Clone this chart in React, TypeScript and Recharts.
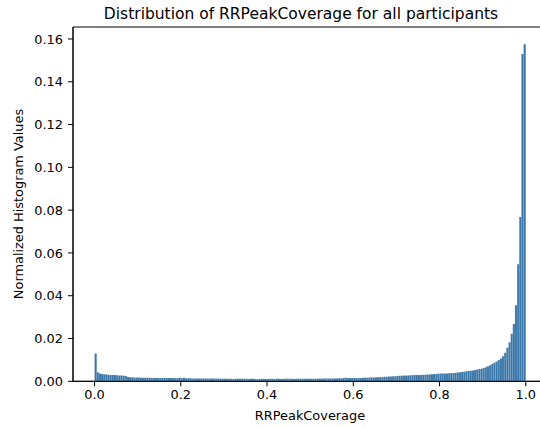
import React from 'react'
import { BarChart, Bar, XAxis, YAxis, ReferenceArea } from 'recharts'

// histogram: 200 equal bins over [0, 1]
const BIN_WIDTH = 0.005

const density = [
  // 0.00 - 0.10
  0.0130, 0.0042, 0.0036, 0.0034, 0.0033, 0.0032, 0.0031, 0.0030, 0.0029, 0.0029,
  0.0028, 0.0027, 0.0027, 0.0026, 0.0025, 0.0020, 0.0019, 0.0019, 0.0018, 0.0018,
  // 0.10 - 0.20
  0.0018, 0.0017, 0.0017, 0.0017, 0.0017, 0.0017, 0.0016, 0.0016, 0.0016, 0.0016,
  0.0016, 0.0016, 0.0016, 0.0015, 0.0016, 0.0015, 0.0015, 0.0015, 0.0016, 0.0017,
  // 0.20 - 0.30
  0.0014, 0.0017, 0.0014, 0.0014, 0.0014, 0.0013, 0.0013, 0.0013, 0.0013, 0.0013,
  0.0013, 0.0013, 0.0013, 0.0012, 0.0013, 0.0013, 0.0012, 0.0013, 0.0012, 0.0012,
  // 0.30 - 0.40
  0.0012, 0.0012, 0.0012, 0.0012, 0.0011, 0.0012, 0.0012, 0.0012, 0.0012, 0.0012,
  0.0012, 0.0011, 0.0012, 0.0012, 0.0011, 0.0010, 0.0011, 0.0012, 0.0011, 0.0011,
  // 0.40 - 0.50
  0.0011, 0.0012, 0.0012, 0.0011, 0.0012, 0.0012, 0.0011, 0.0012, 0.0012, 0.0012,
  0.0012, 0.0012, 0.0011, 0.0012, 0.0012, 0.0012, 0.0012, 0.0012, 0.0012, 0.0012,
  // 0.50 - 0.60
  0.0012, 0.0012, 0.0012, 0.0012, 0.0013, 0.0012, 0.0013, 0.0013, 0.0013, 0.0013,
  0.0013, 0.0013, 0.0013, 0.0014, 0.0014, 0.0015, 0.0017, 0.0015, 0.0015, 0.0016,
  // 0.60 - 0.70
  0.0016, 0.0015, 0.0016, 0.0016, 0.0017, 0.0017, 0.0017, 0.0018, 0.0018, 0.0018,
  0.0019, 0.0019, 0.0020, 0.0020, 0.0021, 0.0021, 0.0022, 0.0023, 0.0024, 0.0024,
  // 0.70 - 0.80
  0.0025, 0.0026, 0.0026, 0.0027, 0.0027, 0.0027, 0.0028, 0.0028, 0.0029, 0.0029,
  0.0030, 0.0030, 0.0031, 0.0031, 0.0032, 0.0032, 0.0033, 0.0034, 0.0034, 0.0035,
  // 0.80 - 0.90
  0.0036, 0.0036, 0.0037, 0.0037, 0.0038, 0.0039, 0.0039, 0.0040, 0.0041, 0.0042,
  0.0044, 0.0045, 0.0047, 0.0048, 0.0049, 0.0051, 0.0053, 0.0055, 0.0057, 0.0059,
  // 0.90 - 1.00
  0.0062, 0.0066, 0.0070, 0.0075, 0.0081, 0.0087, 0.0092, 0.0099, 0.0107, 0.0117,
  0.0133, 0.0157, 0.0182, 0.0222, 0.0268, 0.0355, 0.0547, 0.0768, 0.1530, 0.1575,
]

const xTicks = [0, 0.2, 0.4, 0.6, 0.8, 1.0]
const yTicks = [0, 0.02, 0.04, 0.06, 0.08, 0.1, 0.12, 0.14, 0.16]

const X_DOMAIN: [number, number] = [-0.05, 1.05]
const Y_MAX = 0.1656

const CHART_W = 560
const CHART_H = 427
const Y_AXIS_W = 73
const X_AXIS_H = 45.7
const MARGIN = { top: 27, right: 12.7, bottom: 0, left: 0 }
const PLOT_W = CHART_W - Y_AXIS_W - MARGIN.right
// a hair under the bin width, otherwise recharts shrinks bars to 90%
const BAR_PX = (PLOT_W * BIN_WIDTH) / (X_DOMAIN[1] - X_DOMAIN[0]) - 0.002

const data = density.map((v, i) => ({ x: (i + 0.5) * BIN_WIDTH, v }))

const FONT = '"DejaVu Sans", sans-serif'
const tickStyle = { fontSize: 12.9, fill: '#000', fontFamily: FONT }

export default function App() {
  return (
    <div
      style={{
        position: 'absolute',
        left: 0,
        top: 0,
        width: 540,
        height: 427,
        overflow: 'hidden',
        background: '#fff',
        fontFamily: FONT,
        color: '#000',
      }}
    >
      <BarChart
        width={CHART_W}
        height={CHART_H}
        data={data}
        margin={MARGIN}
        barCategoryGap={0}
        barGap={0}
      >
        <XAxis
          type="number"
          dataKey="x"
          domain={X_DOMAIN}
          ticks={xTicks}
          interval={0}
          allowDataOverflow
          height={X_AXIS_H}
          tick={tickStyle}
          tickSize={5}
          tickMargin={4}
          tickLine={{ stroke: '#000', strokeWidth: 1 }}
          axisLine={{ stroke: '#000', strokeWidth: 1 }}
          tickFormatter={(v: number) => v.toFixed(1)}
        />
        <YAxis
          type="number"
          domain={[0, Y_MAX]}
          ticks={yTicks}
          interval={0}
          allowDataOverflow
          width={Y_AXIS_W}
          tick={tickStyle}
          tickSize={5}
          tickMargin={5}
          tickLine={{ stroke: '#000', strokeWidth: 1 }}
          axisLine={{ stroke: '#000', strokeWidth: 1 }}
          tickFormatter={(v: number) => v.toFixed(2)}
        />
        <Bar
          dataKey="v"
          fill="#3a77a8"
          stroke="#ffffff"
          strokeOpacity={0.2}
          strokeWidth={0.4}
          barSize={BAR_PX}
          isAnimationActive={false}
        />
        <ReferenceArea
          x1={X_DOMAIN[0]}
          x2={X_DOMAIN[1]}
          y1={0}
          y2={Y_MAX}
          fill="none"
          stroke="#000"
          strokeWidth={1}
          ifOverflow="visible"
        />
      </BarChart>

      <div
        style={{
          position: 'absolute',
          left: 0,
          width: 602,
          top: 4.5,
          textAlign: 'center',
          fontSize: 15.5,
          whiteSpace: 'nowrap',
        }}
      >
        Distribution of RRPeakCoverage for all participants
      </div>

      <div
        style={{
          position: 'absolute',
          left: 0,
          width: 620,
          top: 408,
          textAlign: 'center',
          fontSize: 12.9,
          whiteSpace: 'nowrap',
        }}
      >
        RRPeakCoverage
      </div>

      <div
        style={{
          position: 'absolute',
          left: 18,
          top: 204,
          fontSize: 12.9,
          whiteSpace: 'nowrap',
          transform: 'translate(-50%, -50%) rotate(-90deg)',
        }}
      >
        Normalized Histogram Values
      </div>
    </div>
  )
}
